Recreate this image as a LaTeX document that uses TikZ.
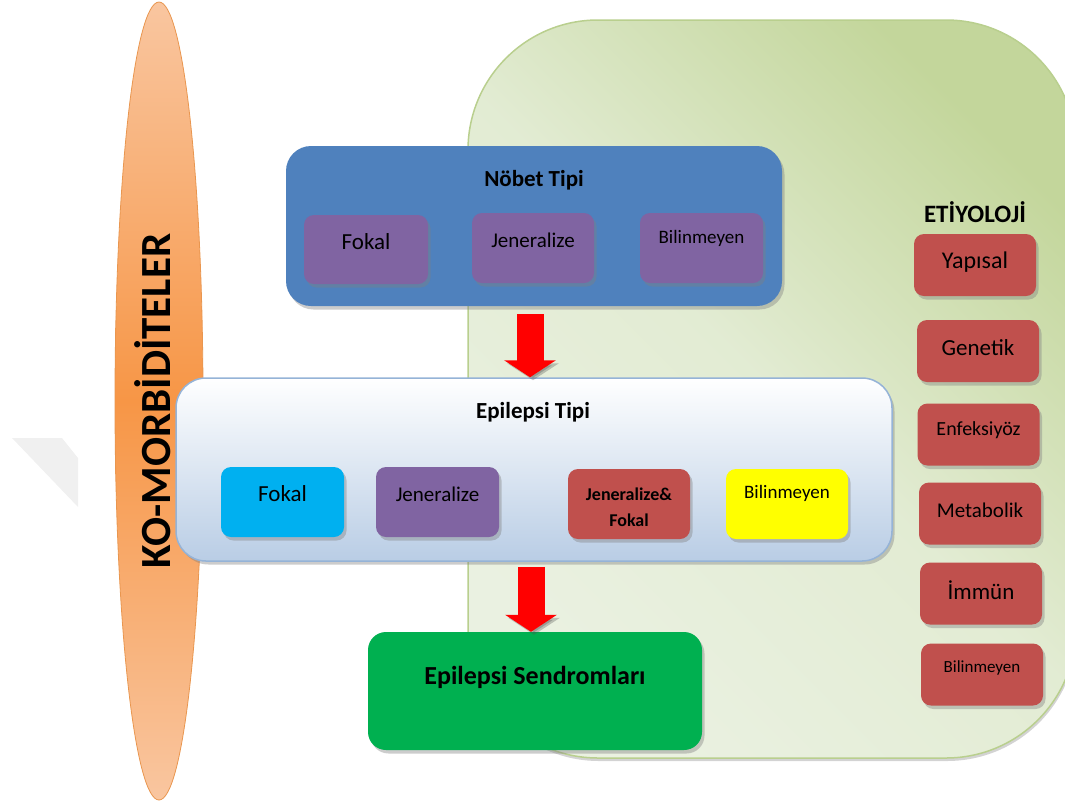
\documentclass[tikz,border=0pt]{standalone}
\usepackage{fontspec}
\setmainfont{Carlito}
\usetikzlibrary{shapes.geometric, shadows, arrows.meta, positioning}

\definecolor{panellight}{HTML}{EAF1E1}
\definecolor{paneldark}{HTML}{C3D69B}
\definecolor{panelrim}{HTML}{B9CF8E}
\definecolor{elllight}{HTML}{F9C6A0}
\definecolor{ellmid}{HTML}{F79646}
\definecolor{ellrim}{HTML}{E9964F}
\definecolor{boxblue}{HTML}{4F81BD}
\definecolor{boxpurple}{HTML}{8064A2}
\definecolor{boxred}{HTML}{C0504D}
\definecolor{boxgreen}{HTML}{00B050}
\definecolor{boxcyan}{HTML}{00B0F0}
\definecolor{boxyellow}{HTML}{FFFF00}
\definecolor{epiblue}{HTML}{B9CDE5}
\definecolor{epirim}{HTML}{95B3D7}
\definecolor{arrowred}{HTML}{FF0000}

\begin{document}
\begin{tikzpicture}[x=1pt, y=-1pt,
    box/.style={rounded corners=10pt, inner sep=0pt, minimum width=123pt, minimum height=70pt,
        drop shadow={shadow xshift=2.5pt, shadow yshift=-3.5pt, opacity=0.4}},
    fsize/.style={font=\fontsize{#1}{#1}\selectfont},
    ttl/.style={font=\fontsize{#1}{#1}\selectfont\bfseries, inner sep=0pt},
    blockarrow/.style={draw=arrowred, line width=27pt, -{Triangle[width=51pt,length=17pt]},
        preaction={draw=black!70, opacity=0.3, transform canvas={xshift=3pt, yshift=-3pt}}}
]
    \useasboundingbox (0,0) rectangle (1065,804);

    % Etiyoloji panel in the back
    \path[draw=panelrim, line width=1.5pt, rounded corners=130pt,
        top color=paneldark, bottom color=panellight, middle color=panellight!80!paneldark,
        shading angle=-45,
        drop shadow={shadow xshift=1pt, shadow yshift=-3pt, opacity=0.35}]
        (468,20) rectangle (1076,758);
    \fill[gray!12] (12,438) -- (62,438) -- (78,458) -- (78,507) -- cycle;

    % Ko-morbiditeler
    \node[ellipse, draw=ellrim, line width=0.8pt, inner sep=0pt,
        minimum width=88pt, minimum height=798pt,
        top color=elllight, bottom color=elllight, middle color=ellmid,
        label={[font=\fontsize{43}{43}\selectfont\bfseries, xshift=-6pt, rotate=90]center:KO-MORB\.ID\.ITELER}]
        (komorb) at (159,401) {};

    % Nobet tipi
    \node[box, fill=boxblue, rounded corners=25pt, minimum width=496pt, minimum height=160pt] (nobet) at (534,226) {};
    \node[ttl=23] (nobetlbl) at (534,180) {Nöbet Tipi};
    \node[box, fill=boxpurple, minimum width=124pt, minimum height=69pt,
        label={[fsize=23, yshift=7.5pt]center:Fokal}] (nfokal) at (366,249.5) {};
    \node[box, fill=boxpurple, minimum width=122pt,
        label={[fsize=21, yshift=8pt]center:Jeneralize}] (njen) at (533,248) {};
    \node[box, fill=boxpurple,
        label={[fsize=19, yshift=10pt]center:Bilinmeyen}] (nbil) at (701.5,248) {};

    % Epilepsi tipi
    \node[box, draw=epirim, line width=1.5pt, top color=white, bottom color=epiblue,
        rounded corners=30pt, minimum width=716pt, minimum height=183pt] (epi) at (534,469.5) {};
    \node[ttl=23] (epilbl) at (533,412) {Epilepsi Tipi};
    \node[box, fill=boxcyan, label={[fsize=23, yshift=8pt]center:Fokal}] (efokal) at (282.5,502) {};
    \node[box, fill=boxpurple, label={[fsize=21, yshift=8pt]center:Jeneralize}] (ejen) at (437.5,502) {};
    \node[box, fill=boxred, minimum width=122pt,
        label={[font=\fontsize{18}{26}\selectfont\bfseries, align=center, yshift=-3pt]center:{Jeneralize\&\\Fokal}}] (ejf) at (629,504) {};
    \node[box, fill=boxyellow, minimum width=122pt,
        label={[fsize=19, yshift=11pt]center:Bilinmeyen}] (ebil) at (787,504) {};

    % Epilepsi sendromlari
    \node[box, fill=boxgreen, rounded corners=18pt, minimum width=334pt, minimum height=118pt,
        label={[ttl=26, yshift=14pt]center:Epilepsi Sendromları}] (synd) at (535,691) {};

    % arrows
    \draw[blockarrow] ([xshift=-4pt, yshift=-8pt]nobet.south) -- ([xshift=-4pt]epi.north);
    \draw[blockarrow] ([xshift=-3pt, yshift=-5pt]epi.south) -- ([xshift=-4pt]synd.north);

    % Etiyoloji
    \node[ttl=25] (etlbl) at (975,212) {ET\.IYOLOJ\.I};
    \foreach \nm/\xx/\yy/\txt/\fs/\dy in {
        yap/975/265/Yapısal/24/3,
        gen/978/351/Genetik/23/3,
        enf/978.5/434.5/Enfeksiyöz/20/4.5,
        met/980/513.5/Metabolik/21/3.5,
        imm/981/593.5/İmmün/23/3.5,
        bil/982/674.5/Bilinmeyen/17/6.5
    } {
        \node[box, fill=boxred, minimum width=122pt, minimum height=62pt,
            label={[fsize=\fs, yshift=\dy pt]center:\txt}] (et\nm) at (\xx,\yy) {};
    }
\end{tikzpicture}
\end{document}
